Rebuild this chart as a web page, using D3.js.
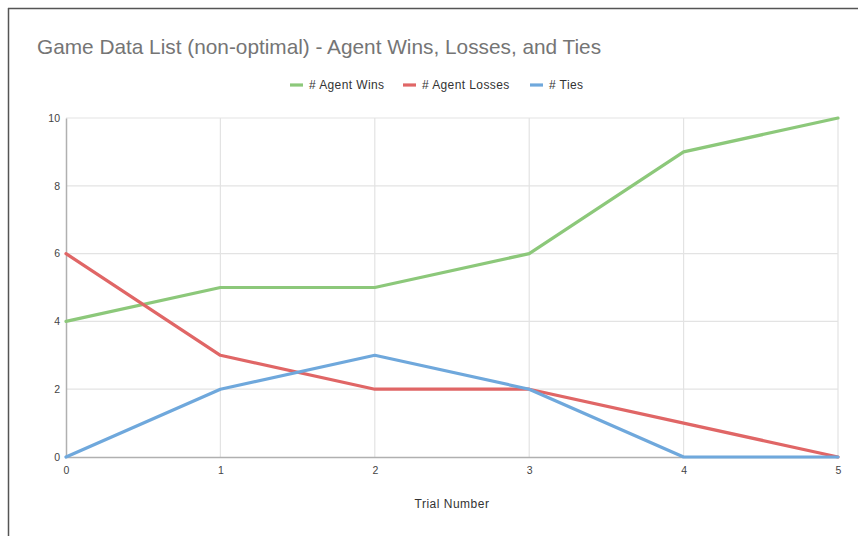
<!DOCTYPE html>
<html>
<head>
<meta charset="utf-8">
<script src="https://cdn.jsdelivr.net/npm/d3@7"></script>
<style>
  html, body { margin: 0; padding: 0; background: #fff; }
  svg { display: block; font-family: "Liberation Sans", Arial, sans-serif; }
</style>
</head>
<body>
<svg id="chart" width="858" height="536"></svg>
<script>
// Trial results per run
const trials = [0, 1, 2, 3, 4, 5];
const agentWins = [4, 5, 5, 6, 9, 10];
const agentLosses = [6, 3, 2, 2, 1, 0];
const ties = [0, 2, 3, 2, 0, 0];
const yTicks = [0, 2, 4, 6, 8, 10];
const seriesNames = ["# Agent Wins", "# Agent Losses", "# Ties"];
const seriesColors = ["#8cc87a", "#e06666", "#6fa8dc"];

const series = [agentWins, agentLosses, ties].map((vals, i) => ({
  name: seriesNames[i],
  color: seriesColors[i],
  values: vals.map((v, j) => ({ x: trials[j], y: v }))
}));

const svg = d3.select("#chart");
const W = 858, H = 536;
const FONT = "Liberation Sans, Arial, sans-serif";

// Outer frame (left and top edges)
svg.append("line").attr("x1", 8.5).attr("x2", 8.5).attr("y1", 8).attr("y2", H)
  .attr("stroke", "#555").attr("stroke-width", 1.5);
svg.append("line").attr("x1", 8).attr("x2", W).attr("y1", 8.5).attr("y2", 8.5)
  .attr("stroke", "#555").attr("stroke-width", 1.5);

const plot = { left: 66, right: 838, top: 118, bottom: 457 };

const x = d3.scaleLinear().domain([0, 5]).range([plot.left, plot.right]);
const y = d3.scaleLinear().domain([0, 10]).range([plot.bottom, plot.top]);

// Title
svg.append("text")
  .attr("x", 37).attr("y", 54)
  .attr("font-size", 20.8)
  .attr("fill", "#757575")
  .text("Game Data List (non-optimal) - Agent Wins, Losses, and Ties");

// Gridlines
const grid = svg.append("g");
grid.selectAll("line.h").data(yTicks.filter(d => d !== 0)).join("line")
  .attr("x1", plot.left).attr("x2", plot.right)
  .attr("y1", d => y(d)).attr("y2", d => y(d))
  .attr("stroke", "#e3e3e3").attr("stroke-width", 1.2);
grid.selectAll("line.v").data(trials.filter(d => d !== 0)).join("line")
  .attr("x1", d => x(d)).attr("x2", d => x(d))
  .attr("y1", plot.top).attr("y2", plot.bottom)
  .attr("stroke", "#e3e3e3").attr("stroke-width", 1.2);

// Axes
const yAxis = d3.axisLeft(y).tickValues(yTicks).tickSize(0).tickPadding(6);
const gy = svg.append("g").attr("transform", `translate(${plot.left},0)`).call(yAxis);
gy.select(".domain").attr("stroke", "#b0b0b0").attr("stroke-width", 1.5);
gy.selectAll("text").attr("font-size", 10.5).attr("fill", "#444").attr("font-family", FONT);

const xAxis = d3.axisBottom(x).tickValues(trials).tickFormat(d3.format("d")).tickSize(0).tickPadding(10);
const gx = svg.append("g").attr("transform", `translate(0,${plot.bottom})`).call(xAxis);
gx.select(".domain").attr("stroke", "#b0b0b0").attr("stroke-width", 1.5);
gx.selectAll("text").attr("font-size", 10.5).attr("fill", "#444").attr("font-family", FONT);

// Axis title
svg.append("text")
  .attr("x", (plot.left + plot.right) / 2).attr("y", 508)
  .attr("text-anchor", "middle")
  .attr("font-size", 12).attr("fill", "#333")
  .attr("letter-spacing", 0.5)
  .text("Trial Number");

// Series lines
const line = d3.line().x(d => x(d.x)).y(d => y(d.y));
svg.append("g").selectAll("path").data(series).join("path")
  .attr("d", d => line(d.values))
  .attr("fill", "none")
  .attr("stroke", d => d.color)
  .attr("stroke-width", 3.2)
  .attr("stroke-linejoin", "round")
  .attr("stroke-linecap", "round");

// Legend
const legendX = [290, 403, 530];
const lg = svg.append("g").selectAll("g").data(series).join("g")
  .attr("transform", (d, i) => `translate(${legendX[i]},85)`);
lg.append("line").attr("x1", 0).attr("x2", 13).attr("y1", 0).attr("y2", 0)
  .attr("stroke", d => d.color).attr("stroke-width", 3.2);
lg.append("text").attr("x", 19).attr("y", 4)
  .attr("font-size", 12).attr("fill", "#333")
  .attr("letter-spacing", 0.4)
  .text(d => d.name);
</script>
</body>
</html>
